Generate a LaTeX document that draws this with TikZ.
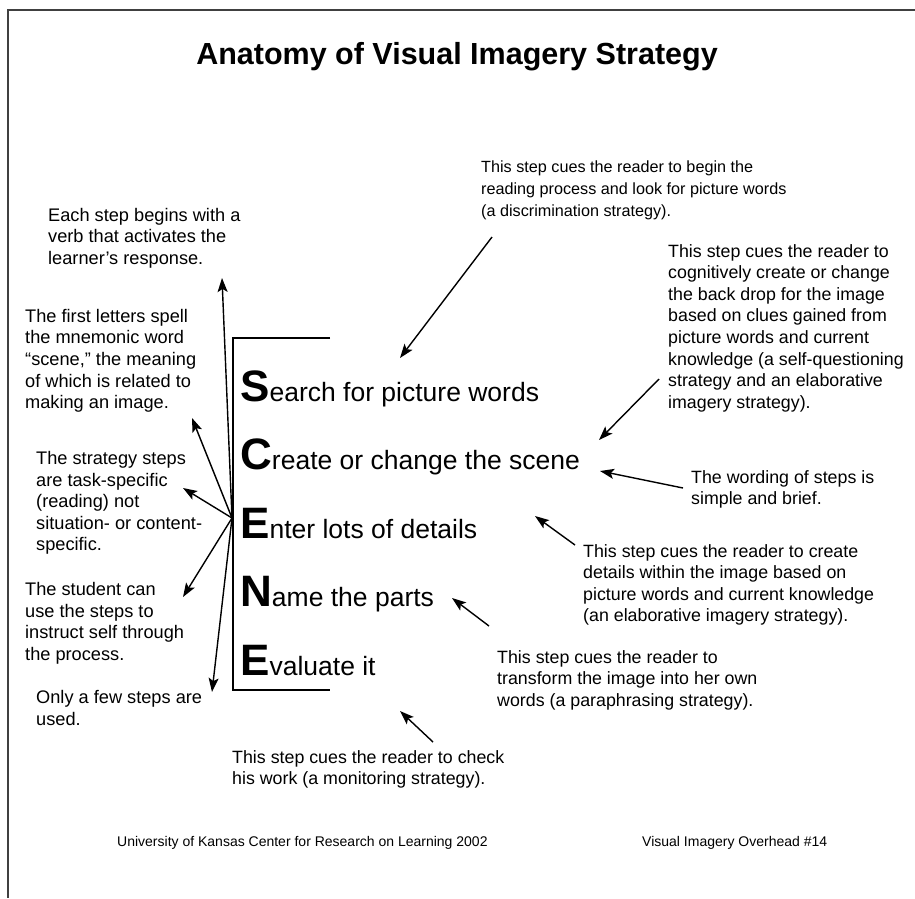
\documentclass[tikz,border=0pt]{standalone}
\usepackage{fontspec}
\setmainfont{Liberation Sans}
\usetikzlibrary{arrows.meta}

\begin{document}
\begin{tikzpicture}[x=1pt, y=-1pt]
	\tikzstyle{note} = [inner sep=0pt, anchor=north west, align=left, font={\fontsize{17.8}{21.6}\selectfont}];
	\tikzstyle{leftnote} = [note, font={\fontsize{18.2}{21.6}\selectfont}];
	\tikzstyle{point} = [-{Stealth[length=14pt, width=10pt, inset=3pt]}, line width=1.4pt];
	\tikzstyle{frame} = [line width=1.8pt, color=black!75];
	\tikzstyle{stepline} = [inner sep=0pt, anchor=base west];
	\tikzstyle{credit} = [inner sep=0pt, anchor=west, font={\fontsize{14}{16}\selectfont}];

	\useasboundingbox (0,0) rectangle (915,898);

	% page edge
	\draw[frame] (915,10) -- (8,10) -- (8,898);

	\node[font={\fontsize{30.5}{36}\selectfont\bfseries}] (title) at (457,57) {Anatomy of Visual Imagery Strategy};

	% the five steps
	\foreach \l/\rest [count=\i] in {S/earch for picture words, C/reate or change the scene, E/nter lots of details, N/ame the parts, E/valuate it} {
		\node[stepline] (s\i) at (240, {401+68.5*(\i-1)})
			{{\fontsize{44}{46}\selectfont\bfseries\l}{\fontsize{26.5}{30}\selectfont\rest}};
	}
	\draw[line width=1.3pt] (330,338) -- (233,338) -- (233,690) -- (330,690);

	% notes on the right
	\node[note, font={\fontsize{16.2}{21.6}\selectfont}] (searchnote) at (481,161) {This step cues the reader to begin the\\reading process and look for picture words\\(a discrimination strategy).};
	\node[note] (scenenote) at (668,244) {This step cues the reader to\\cognitively create or change\\the back drop for the image\\based on clues gained from\\picture words and current\\knowledge (a self-questioning\\strategy and an elaborative\\imagery strategy).};
	\node[note] (wordnote) at (691,470) {The wording of steps is\\simple and brief.};
	\node[note] (detailnote) at (583,544) {This step cues the reader to create\\details within the image based on\\picture words and current knowledge\\(an elaborative imagery strategy).};
	\node[note] (partsnote) at (497,650) {This step cues the reader to\\transform the image into her own\\words (a paraphrasing strategy).};
	\node[note] (checknote) at (232,750) {This step cues the reader to check\\his work (a monitoring strategy).};

	% notes on the left
	\node[leftnote] (verbnote) at (48,208) {Each step begins with a\\verb that activates the\\learner’s response.};
	\node[leftnote] (letternote) at (25,309) {The first letters spell\\the mnemonic word\\“scene,” the meaning\\of which is related to\\making an image.};
	\node[leftnote] (tasknote) at (36,451) {The strategy steps\\are task-specific\\(reading) not\\situation- or content-\\specific.};
	\node[leftnote] (studentnote) at (25,582) {The student can\\use the steps to\\instruct self through\\the process.};
	\node[leftnote] (fewnote) at (36,690) {Only a few steps are\\used.};

	\node[credit] (kansas) at (117,843) {University of Kansas Center for Research on Learning 2002};
	\node[credit] (overhead) at (642,843) {Visual Imagery Overhead \#14};

	% arrow ends
	\coordinate (fan) at (232,518);
	\coordinate (verbtip) at (222,278);
	\coordinate (lettertip) at (192,418);
	\coordinate (tasktip) at (183,488);
	\coordinate (studenttip) at (183,597);
	\coordinate (fewtip) at (212,692);

	\coordinate (searchtail) at (492,237);
	\coordinate (searchtip) at (400,358);
	\coordinate (scenetail) at (659,379);
	\coordinate (scenetip) at (599,440);
	\coordinate (wordtail) at (683,488);
	\coordinate (wordtip) at (600,471);
	\coordinate (detailtail) at (575,545);
	\coordinate (detailtip) at (535,516);
	\coordinate (partstail) at (489,626);
	\coordinate (partstip) at (452,598);
	\coordinate (checktail) at (433,742);
	\coordinate (checktip) at (400,711);

	\foreach \t in {verb, letter, task, student, few}
		\draw[point] (fan) -- (\t tip);
	\foreach \t in {search, scene, word, detail, parts, check}
		\draw[point] (\t tail) -- (\t tip);

\end{tikzpicture}
\end{document}
